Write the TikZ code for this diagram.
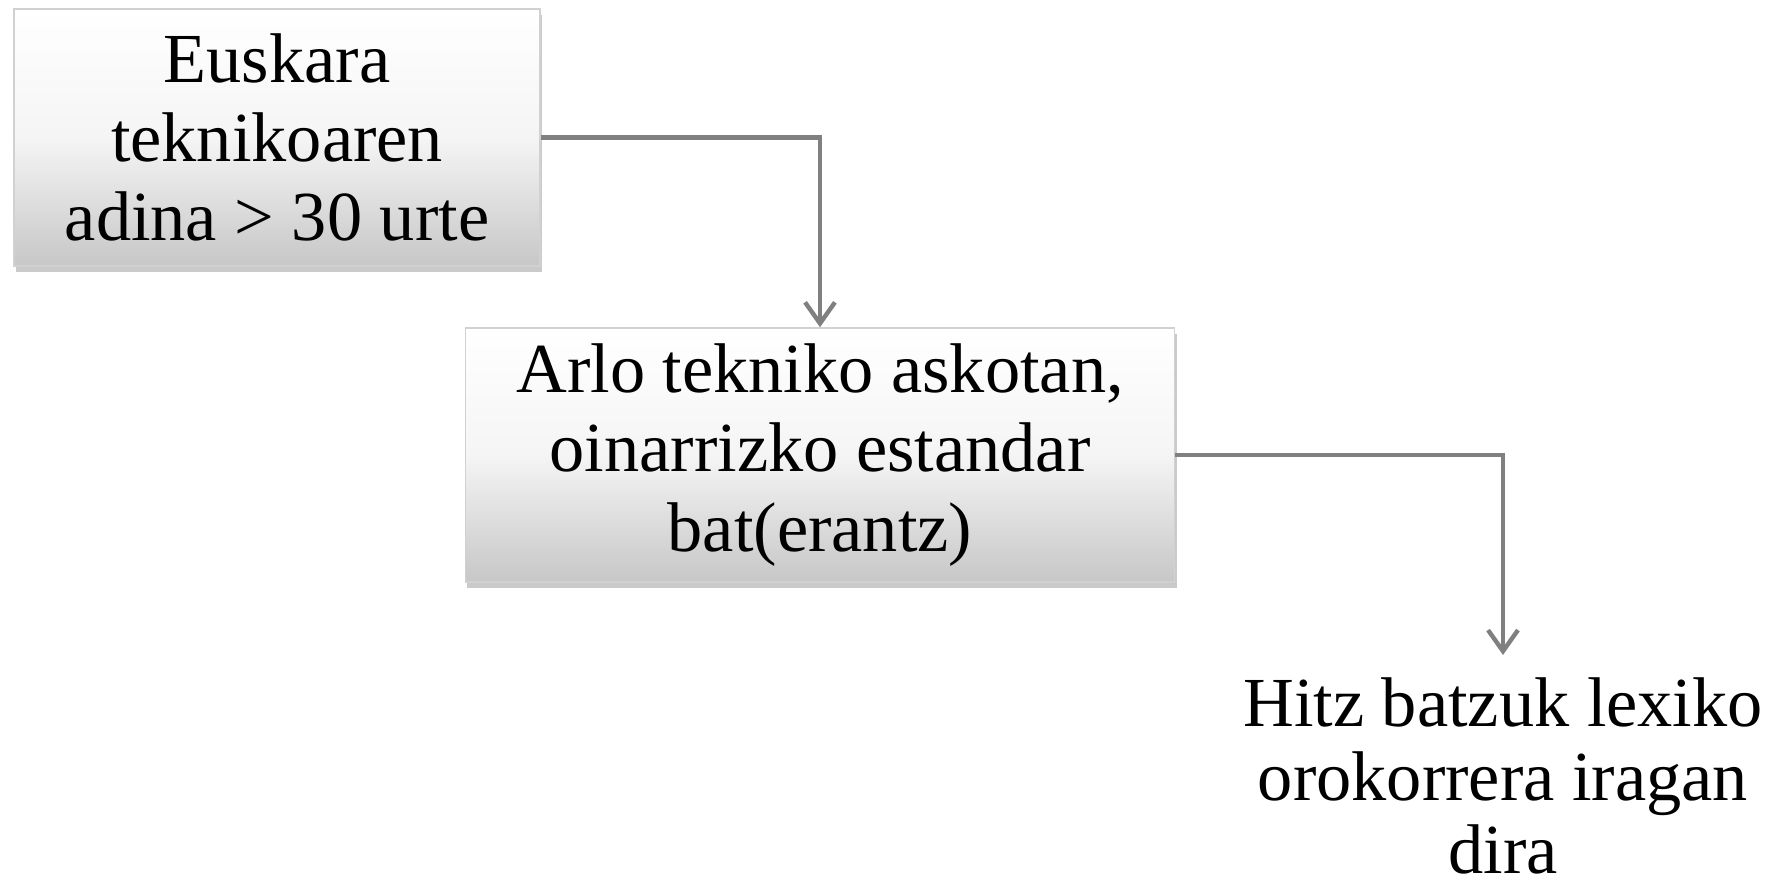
\documentclass[tikz,border=0pt]{standalone}
\usepackage{fontspec}
\setmainfont{Liberation Serif}
\usetikzlibrary{arrows.meta,shadows}

\definecolor{linkgray}{RGB}{128,128,128}

\tikzset{
  card/.style={
    rectangle, draw=black!18, line width=0.4pt,
    top color=white, bottom color=black!22, middle color=white!96!black,
    shading angle=0,
    drop shadow={shadow xshift=0.6pt, shadow yshift=-1.8pt, opacity=0.35, fill=black!60},
    align=center, font=\fontsize{20}{22.5}\selectfont, inner sep=0pt
  },
  plain/.style={align=center, font=\fontsize{20}{21}\selectfont, inner sep=0pt},
  link/.style={draw=linkgray, line width=1.25pt,
    -{Straight Barb[length=6pt,width=8.5pt,line width=1.25pt]}}
}

\begin{document}
\begin{tikzpicture}[x=0.01cm,y=-0.01cm]
  \useasboundingbox (0,0) rectangle (1772,886);

  \node[card, minimum width=5.26cm, minimum height=2.57cm] (b1) at (277,137.5)
    {Euskara\\teknikoaren\\adina > 30 urte};
  \node[card, minimum width=7.09cm, minimum height=2.54cm] (b2) at (820,455)
    {Arlo tekniko askotan,\\oinarrizko estandar\\bat(erantz)};
  \node[plain] (t3) at (1503,776)
    {Hitz batzuk lexiko\\orokorrera iragan\\dira};
  \coordinate (t3in) at (1503,655);

  \draw[link] (b1.east) -| (b2.north);
  \draw[link] (b2.east) -| (t3in);
\end{tikzpicture}
\end{document}
